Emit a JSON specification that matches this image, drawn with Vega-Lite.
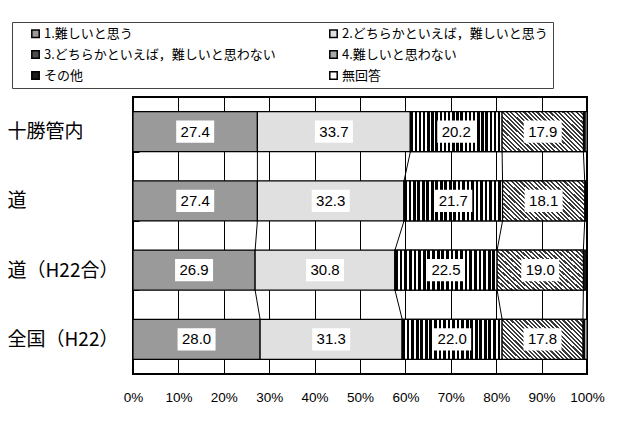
{
  "$schema": "https://vega.github.io/schema/vega-lite/v6.json",
  "width": 454,
  "height": 277,
  "autosize": {"type": "none"},
  "padding": {"left": 133, "top": 97, "right": 32, "bottom": 49},
  "background": "white",
  "config": {
    "view": {"stroke": "black", "strokeWidth": 2},
    "font": "Liberation Sans"
  },
  "datasets": {
    "answers": [
      {"cat": "十勝管内", "series": "1.難しいと思う", "order": 1, "value": 27.4},
      {"cat": "十勝管内", "series": "2.どちらかといえば，難しいと思う", "order": 2, "value": 33.7},
      {"cat": "十勝管内", "series": "3.どちらかといえば，難しいと思わない", "order": 3, "value": 20.2},
      {"cat": "十勝管内", "series": "4.難しいと思わない", "order": 4, "value": 17.9},
      {"cat": "十勝管内", "series": "その他", "order": 5, "value": 0.4},
      {"cat": "十勝管内", "series": "無回答", "order": 6, "value": 0.4},
      {"cat": "道", "series": "1.難しいと思う", "order": 1, "value": 27.4},
      {"cat": "道", "series": "2.どちらかといえば，難しいと思う", "order": 2, "value": 32.3},
      {"cat": "道", "series": "3.どちらかといえば，難しいと思わない", "order": 3, "value": 21.7},
      {"cat": "道", "series": "4.難しいと思わない", "order": 4, "value": 18.1},
      {"cat": "道", "series": "その他", "order": 5, "value": 0.3},
      {"cat": "道", "series": "無回答", "order": 6, "value": 0.2},
      {"cat": "道（H22合）", "series": "1.難しいと思う", "order": 1, "value": 26.9},
      {"cat": "道（H22合）", "series": "2.どちらかといえば，難しいと思う", "order": 2, "value": 30.8},
      {"cat": "道（H22合）", "series": "3.どちらかといえば，難しいと思わない", "order": 3, "value": 22.5},
      {"cat": "道（H22合）", "series": "4.難しいと思わない", "order": 4, "value": 19.0},
      {"cat": "道（H22合）", "series": "その他", "order": 5, "value": 0.7},
      {"cat": "道（H22合）", "series": "無回答", "order": 6, "value": 0.1},
      {"cat": "全国（H22）", "series": "1.難しいと思う", "order": 1, "value": 28.0},
      {"cat": "全国（H22）", "series": "2.どちらかといえば，難しいと思う", "order": 2, "value": 31.3},
      {"cat": "全国（H22）", "series": "3.どちらかといえば，難しいと思わない", "order": 3, "value": 22.0},
      {"cat": "全国（H22）", "series": "4.難しいと思わない", "order": 4, "value": 17.8},
      {"cat": "全国（H22）", "series": "その他", "order": 5, "value": 0.4},
      {"cat": "全国（H22）", "series": "無回答", "order": 6, "value": 0.5}
    ],
    "links": [
      {"from": "十勝管内", "to": "道", "a": 27.4, "b": 27.4},
      {"from": "十勝管内", "to": "道", "a": 61.1, "b": 59.7},
      {"from": "十勝管内", "to": "道", "a": 81.3, "b": 81.4},
      {"from": "十勝管内", "to": "道", "a": 99.2, "b": 99.5},
      {"from": "道", "to": "道（H22合）", "a": 27.4, "b": 26.9},
      {"from": "道", "to": "道（H22合）", "a": 59.7, "b": 57.7},
      {"from": "道", "to": "道（H22合）", "a": 81.4, "b": 80.2},
      {"from": "道", "to": "道（H22合）", "a": 99.5, "b": 99.2},
      {"from": "道（H22合）", "to": "全国（H22）", "a": 26.9, "b": 28.0},
      {"from": "道（H22合）", "to": "全国（H22）", "a": 57.7, "b": 59.3},
      {"from": "道（H22合）", "to": "全国（H22）", "a": 80.2, "b": 81.3},
      {"from": "道（H22合）", "to": "全国（H22）", "a": 99.2, "b": 99.1}
    ]
  },
  "layer": [
    {
      "data": {"name": "answers"},
      "mark": {"type": "bar", "stroke": "black", "strokeWidth": 1.2},
      "encoding": {
        "y": {
          "field": "cat", "type": "nominal",
          "scale": {"domain": ["十勝管内", "道", "道（H22合）", "全国（H22）"], "paddingInner": 0.422, "paddingOuter": 0.211},
          "axis": {
            "title": null, "domain": false, "ticks": true, "tickBand": "extent",
            "tickSize": -6, "tickColor": "black", "tickWidth": 1,
            "labelAlign": "left", "labelPadding": 132, "labelFont": "Noto Sans CJK JP",
            "labelFontSize": 19, "labelColor": "black", "grid": false, "labelLimit": 200
          }
        },
        "x": {
          "field": "value", "type": "quantitative", "stack": "zero",
          "scale": {"domain": [0, 100], "nice": false},
          "axis": {
            "title": null, "values": [0, 10, 20, 30, 40, 50, 60, 70, 80, 90, 100],
            "labelExpr": "datum.value + '%'", "ticks": false, "domain": false,
            "grid": true, "gridColor": "black", "gridWidth": 1, "gridOpacity": 1,
            "labelFontSize": 13.5, "labelColor": "black", "labelPadding": 16,
            "labelFlush": false, "labelFont": "Liberation Sans"
          }
        },
        "color": {
          "field": "series", "type": "nominal",
          "scale": {
            "domain": ["1.難しいと思う", "2.どちらかといえば，難しいと思う", "3.どちらかといえば，難しいと思わない", "4.難しいと思わない", "その他", "無回答"],
            "range": ["#9a9a9a", "#e0e0e0", "#4d4d4d", "#a8a8a8", "#1a1a1a", "#ffffff"]
          },
          "legend": {
            "title": null, "orient": "none", "legendX": -121, "legendY": -75,
            "direction": "horizontal", "columns": 2, "gridAlign": "all",
            "columnPadding": 39, "rowPadding": 6, "symbolType": "square",
            "symbolSize": 55, "symbolStrokeColor": "black", "symbolStrokeWidth": 1.5,
            "labelFont": "Noto Sans CJK JP", "labelFontSize": 13, "labelColor": "black",
            "labelLimit": 400, "strokeColor": "#444", "padding": 5,
            "symbolOffset": 12, "labelOffset": 2
          }
        },
        "order": {"field": "order", "type": "quantitative"}
      }
    },
    {
      "data": {"name": "answers"},
      "transform": [
        {"stack": "value", "groupby": ["cat"], "sort": [{"field": "order", "order": "ascending"}], "as": ["v0", "v1"]},
        {"filter": "datum.order == 3"}
      ],
      "mark": {
        "type": "bar", "stroke": "black", "strokeWidth": 1.2,
        "fill": {"gradient": "linear", "x1": 0, "y1": 0, "x2": 1, "y2": 0, "stops": [
          {"offset": 0, "color": "#000"}, {"offset": 0.0273, "color": "#000"}, {"offset": 0.0273, "color": "#fff"}, {"offset": 0.0455, "color": "#fff"},
          {"offset": 0.0455, "color": "#000"}, {"offset": 0.0727, "color": "#000"}, {"offset": 0.0727, "color": "#fff"}, {"offset": 0.0909, "color": "#fff"},
          {"offset": 0.0909, "color": "#000"}, {"offset": 0.1182, "color": "#000"}, {"offset": 0.1182, "color": "#fff"}, {"offset": 0.1364, "color": "#fff"},
          {"offset": 0.1364, "color": "#000"}, {"offset": 0.1636, "color": "#000"}, {"offset": 0.1636, "color": "#fff"}, {"offset": 0.1818, "color": "#fff"},
          {"offset": 0.1818, "color": "#000"}, {"offset": 0.2091, "color": "#000"}, {"offset": 0.2091, "color": "#fff"}, {"offset": 0.2273, "color": "#fff"},
          {"offset": 0.2273, "color": "#000"}, {"offset": 0.2545, "color": "#000"}, {"offset": 0.2545, "color": "#fff"}, {"offset": 0.2727, "color": "#fff"},
          {"offset": 0.2727, "color": "#000"}, {"offset": 0.3, "color": "#000"}, {"offset": 0.3, "color": "#fff"}, {"offset": 0.3182, "color": "#fff"},
          {"offset": 0.3182, "color": "#000"}, {"offset": 0.3455, "color": "#000"}, {"offset": 0.3455, "color": "#fff"}, {"offset": 0.3636, "color": "#fff"},
          {"offset": 0.3636, "color": "#000"}, {"offset": 0.3909, "color": "#000"}, {"offset": 0.3909, "color": "#fff"}, {"offset": 0.4091, "color": "#fff"},
          {"offset": 0.4091, "color": "#000"}, {"offset": 0.4364, "color": "#000"}, {"offset": 0.4364, "color": "#fff"}, {"offset": 0.4545, "color": "#fff"},
          {"offset": 0.4545, "color": "#000"}, {"offset": 0.4818, "color": "#000"}, {"offset": 0.4818, "color": "#fff"}, {"offset": 0.5, "color": "#fff"},
          {"offset": 0.5, "color": "#000"}, {"offset": 0.5273, "color": "#000"}, {"offset": 0.5273, "color": "#fff"}, {"offset": 0.5455, "color": "#fff"},
          {"offset": 0.5455, "color": "#000"}, {"offset": 0.5727, "color": "#000"}, {"offset": 0.5727, "color": "#fff"}, {"offset": 0.5909, "color": "#fff"},
          {"offset": 0.5909, "color": "#000"}, {"offset": 0.6182, "color": "#000"}, {"offset": 0.6182, "color": "#fff"}, {"offset": 0.6364, "color": "#fff"},
          {"offset": 0.6364, "color": "#000"}, {"offset": 0.6636, "color": "#000"}, {"offset": 0.6636, "color": "#fff"}, {"offset": 0.6818, "color": "#fff"},
          {"offset": 0.6818, "color": "#000"}, {"offset": 0.7091, "color": "#000"}, {"offset": 0.7091, "color": "#fff"}, {"offset": 0.7273, "color": "#fff"},
          {"offset": 0.7273, "color": "#000"}, {"offset": 0.7545, "color": "#000"}, {"offset": 0.7545, "color": "#fff"}, {"offset": 0.7727, "color": "#fff"},
          {"offset": 0.7727, "color": "#000"}, {"offset": 0.8, "color": "#000"}, {"offset": 0.8, "color": "#fff"}, {"offset": 0.8182, "color": "#fff"},
          {"offset": 0.8182, "color": "#000"}, {"offset": 0.8455, "color": "#000"}, {"offset": 0.8455, "color": "#fff"}, {"offset": 0.8636, "color": "#fff"},
          {"offset": 0.8636, "color": "#000"}, {"offset": 0.8909, "color": "#000"}, {"offset": 0.8909, "color": "#fff"}, {"offset": 0.9091, "color": "#fff"},
          {"offset": 0.9091, "color": "#000"}, {"offset": 0.9364, "color": "#000"}, {"offset": 0.9364, "color": "#fff"}, {"offset": 0.9545, "color": "#fff"},
          {"offset": 0.9545, "color": "#000"}, {"offset": 0.9818, "color": "#000"}, {"offset": 0.9818, "color": "#fff"}, {"offset": 1, "color": "#fff"}
        ]}
      },
      "encoding": {
        "y": {"field": "cat", "type": "nominal"},
        "x": {"field": "v0", "type": "quantitative"},
        "x2": {"field": "v1"}
      }
    },
    {
      "data": {"name": "answers"},
      "transform": [
        {"stack": "value", "groupby": ["cat"], "sort": [{"field": "order", "order": "ascending"}], "as": ["v0", "v1"]},
        {"filter": "datum.order == 4"}
      ],
      "mark": {
        "type": "bar", "stroke": "black", "strokeWidth": 1.2,
        "fill": {"gradient": "linear", "x1": 0, "y1": 1, "x2": 1.2, "y2": 0.4, "stops": [
          {"offset": 0, "color": "#3a3a3a"}, {"offset": 0.0179, "color": "#3a3a3a"}, {"offset": 0.0179, "color": "#fff"}, {"offset": 0.0357, "color": "#fff"},
          {"offset": 0.0357, "color": "#3a3a3a"}, {"offset": 0.0536, "color": "#3a3a3a"}, {"offset": 0.0536, "color": "#fff"}, {"offset": 0.0714, "color": "#fff"},
          {"offset": 0.0714, "color": "#3a3a3a"}, {"offset": 0.0893, "color": "#3a3a3a"}, {"offset": 0.0893, "color": "#fff"}, {"offset": 0.1071, "color": "#fff"},
          {"offset": 0.1071, "color": "#3a3a3a"}, {"offset": 0.125, "color": "#3a3a3a"}, {"offset": 0.125, "color": "#fff"}, {"offset": 0.1429, "color": "#fff"},
          {"offset": 0.1429, "color": "#3a3a3a"}, {"offset": 0.1607, "color": "#3a3a3a"}, {"offset": 0.1607, "color": "#fff"}, {"offset": 0.1786, "color": "#fff"},
          {"offset": 0.1786, "color": "#3a3a3a"}, {"offset": 0.1964, "color": "#3a3a3a"}, {"offset": 0.1964, "color": "#fff"}, {"offset": 0.2143, "color": "#fff"},
          {"offset": 0.2143, "color": "#3a3a3a"}, {"offset": 0.2321, "color": "#3a3a3a"}, {"offset": 0.2321, "color": "#fff"}, {"offset": 0.25, "color": "#fff"},
          {"offset": 0.25, "color": "#3a3a3a"}, {"offset": 0.2679, "color": "#3a3a3a"}, {"offset": 0.2679, "color": "#fff"}, {"offset": 0.2857, "color": "#fff"},
          {"offset": 0.2857, "color": "#3a3a3a"}, {"offset": 0.3036, "color": "#3a3a3a"}, {"offset": 0.3036, "color": "#fff"}, {"offset": 0.3214, "color": "#fff"},
          {"offset": 0.3214, "color": "#3a3a3a"}, {"offset": 0.3393, "color": "#3a3a3a"}, {"offset": 0.3393, "color": "#fff"}, {"offset": 0.3571, "color": "#fff"},
          {"offset": 0.3571, "color": "#3a3a3a"}, {"offset": 0.375, "color": "#3a3a3a"}, {"offset": 0.375, "color": "#fff"}, {"offset": 0.3929, "color": "#fff"},
          {"offset": 0.3929, "color": "#3a3a3a"}, {"offset": 0.4107, "color": "#3a3a3a"}, {"offset": 0.4107, "color": "#fff"}, {"offset": 0.4286, "color": "#fff"},
          {"offset": 0.4286, "color": "#3a3a3a"}, {"offset": 0.4464, "color": "#3a3a3a"}, {"offset": 0.4464, "color": "#fff"}, {"offset": 0.4643, "color": "#fff"},
          {"offset": 0.4643, "color": "#3a3a3a"}, {"offset": 0.4821, "color": "#3a3a3a"}, {"offset": 0.4821, "color": "#fff"}, {"offset": 0.5, "color": "#fff"},
          {"offset": 0.5, "color": "#3a3a3a"}, {"offset": 0.5179, "color": "#3a3a3a"}, {"offset": 0.5179, "color": "#fff"}, {"offset": 0.5357, "color": "#fff"},
          {"offset": 0.5357, "color": "#3a3a3a"}, {"offset": 0.5536, "color": "#3a3a3a"}, {"offset": 0.5536, "color": "#fff"}, {"offset": 0.5714, "color": "#fff"},
          {"offset": 0.5714, "color": "#3a3a3a"}, {"offset": 0.5893, "color": "#3a3a3a"}, {"offset": 0.5893, "color": "#fff"}, {"offset": 0.6071, "color": "#fff"},
          {"offset": 0.6071, "color": "#3a3a3a"}, {"offset": 0.625, "color": "#3a3a3a"}, {"offset": 0.625, "color": "#fff"}, {"offset": 0.6429, "color": "#fff"},
          {"offset": 0.6429, "color": "#3a3a3a"}, {"offset": 0.6607, "color": "#3a3a3a"}, {"offset": 0.6607, "color": "#fff"}, {"offset": 0.6786, "color": "#fff"},
          {"offset": 0.6786, "color": "#3a3a3a"}, {"offset": 0.6964, "color": "#3a3a3a"}, {"offset": 0.6964, "color": "#fff"}, {"offset": 0.7143, "color": "#fff"},
          {"offset": 0.7143, "color": "#3a3a3a"}, {"offset": 0.7321, "color": "#3a3a3a"}, {"offset": 0.7321, "color": "#fff"}, {"offset": 0.75, "color": "#fff"},
          {"offset": 0.75, "color": "#3a3a3a"}, {"offset": 0.7679, "color": "#3a3a3a"}, {"offset": 0.7679, "color": "#fff"}, {"offset": 0.7857, "color": "#fff"},
          {"offset": 0.7857, "color": "#3a3a3a"}, {"offset": 0.8036, "color": "#3a3a3a"}, {"offset": 0.8036, "color": "#fff"}, {"offset": 0.8214, "color": "#fff"},
          {"offset": 0.8214, "color": "#3a3a3a"}, {"offset": 0.8393, "color": "#3a3a3a"}, {"offset": 0.8393, "color": "#fff"}, {"offset": 0.8571, "color": "#fff"},
          {"offset": 0.8571, "color": "#3a3a3a"}, {"offset": 0.875, "color": "#3a3a3a"}, {"offset": 0.875, "color": "#fff"}, {"offset": 0.8929, "color": "#fff"},
          {"offset": 0.8929, "color": "#3a3a3a"}, {"offset": 0.9107, "color": "#3a3a3a"}, {"offset": 0.9107, "color": "#fff"}, {"offset": 0.9286, "color": "#fff"},
          {"offset": 0.9286, "color": "#3a3a3a"}, {"offset": 0.9464, "color": "#3a3a3a"}, {"offset": 0.9464, "color": "#fff"}, {"offset": 0.9643, "color": "#fff"},
          {"offset": 0.9643, "color": "#3a3a3a"}, {"offset": 0.9821, "color": "#3a3a3a"}, {"offset": 0.9821, "color": "#fff"}, {"offset": 1, "color": "#fff"}
        ]}
      },
      "encoding": {
        "y": {"field": "cat", "type": "nominal"},
        "x": {"field": "v0", "type": "quantitative"},
        "x2": {"field": "v1"}
      }
    },
    {
      "data": {"name": "links"},
      "mark": {"type": "rule", "color": "black", "strokeWidth": 1},
      "encoding": {
        "y": {"field": "from", "type": "nominal", "bandPosition": 1},
        "y2": {"field": "to", "bandPosition": 0},
        "x": {"field": "a", "type": "quantitative"},
        "x2": {"field": "b"}
      }
    },
    {
      "data": {"name": "answers"},
      "transform": [{"filter": "datum.order <= 4"}],
      "mark": {"type": "point", "shape": "M-1,-0.58H1V0.58H-1Z", "size": 1444, "filled": true, "fill": "white", "opacity": 1, "strokeWidth": 0},
      "encoding": {
        "y": {"field": "cat", "type": "nominal"},
        "x": {"field": "value", "type": "quantitative", "stack": "zero", "bandPosition": 0.5},
        "detail": {"field": "series"},
        "order": {"field": "order", "type": "quantitative"}
      }
    },
    {
      "data": {"name": "answers"},
      "transform": [{"filter": "datum.order <= 4"}],
      "mark": {"type": "text", "font": "Liberation Sans", "fontSize": 15, "color": "black", "align": "center", "baseline": "middle"},
      "encoding": {
        "y": {"field": "cat", "type": "nominal"},
        "x": {"field": "value", "type": "quantitative", "stack": "zero", "bandPosition": 0.5},
        "detail": {"field": "series"},
        "order": {"field": "order", "type": "quantitative"},
        "text": {"field": "value", "type": "quantitative", "format": ".1f"}
      }
    }
  ]
}
